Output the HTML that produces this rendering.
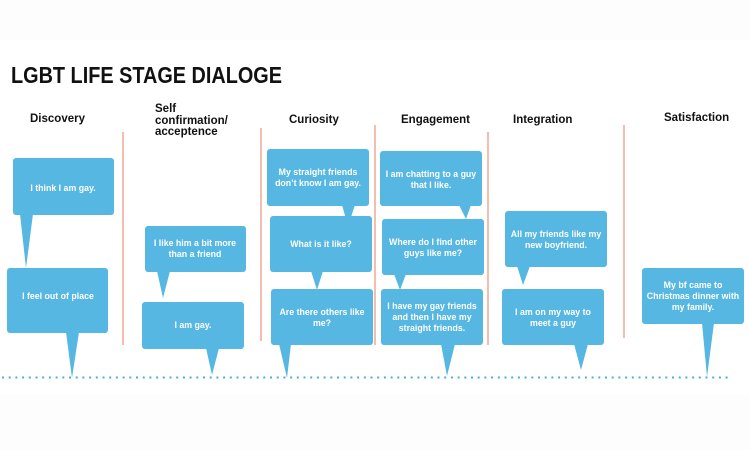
<!DOCTYPE html>
<html><head><meta charset="utf-8"><style>
html,body{margin:0;padding:0;background:#fff;}
svg{display:block}
.h{font-family:"Liberation Sans",sans-serif;font-weight:bold;font-size:11.5px;fill:#111}
.t{font-family:"Liberation Sans",sans-serif;font-weight:bold;font-size:8.8px;fill:#fff;text-anchor:middle}
</style></head><body>
<svg width="750" height="450" viewBox="0 0 750 450" xmlns="http://www.w3.org/2000/svg">
<rect width="750" height="450" fill="#fff"/>
<rect width="750" height="40" fill="#fdfdfd"/>
<rect y="395" width="750" height="55" fill="#fdfdfd"/>
<text x="11" y="83" font-family="Liberation Sans,sans-serif" font-weight="bold" font-size="23" fill="#111" textLength="271" lengthAdjust="spacingAndGlyphs">LGBT LIFE STAGE DIALOGE</text>
<text class="h" x="30" y="122">Discovery</text>
<text class="h" x="155" y="112">Self</text>
<text class="h" x="155" y="124">confirmation/</text>
<text class="h" x="155" y="135">acceptence</text>
<text class="h" x="289" y="123">Curiosity</text>
<text class="h" x="401" y="123">Engagement</text>
<text class="h" x="513" y="123">Integration</text>
<text class="h" x="664" y="121">Satisfaction</text>
<g stroke="#f0a796" stroke-width="1.5">
<line x1="123" y1="132" x2="123" y2="345"/>
<line x1="261" y1="128" x2="261" y2="341"/>
<line x1="375" y1="125" x2="375" y2="345"/>
<line x1="488" y1="132" x2="488" y2="345"/>
<line x1="624" y1="125" x2="624" y2="338"/>
</g>
<g fill="#56b7e2">
<rect x="13" y="158" width="101" height="57" rx="3"/><polygon points="20,214 33,214 26,268"/>
<rect x="7" y="268" width="101" height="65" rx="3"/><polygon points="66,332 79,332 72,378"/>
<rect x="145" y="226" width="101" height="46" rx="3"/><polygon points="157,271 170,271 163,298"/>
<rect x="142" y="302" width="102" height="47" rx="3"/><polygon points="206,348 219,348 212,375"/>
<rect x="267" y="149" width="102" height="57" rx="3"/><polygon points="342,205 355,205 348,226"/>
<rect x="270" y="216" width="102" height="56" rx="3"/><polygon points="311,271 323,271 317,290"/>
<rect x="271" y="289" width="102" height="56" rx="3"/><polygon points="279,344 291,344 287,378"/>
<rect x="380" y="151" width="102" height="55" rx="3"/><polygon points="459,205 471,205 466,219"/>
<rect x="382" y="219" width="102" height="56" rx="3"/><polygon points="394,274 406,274 400,290"/>
<rect x="381" y="289" width="102" height="56" rx="3"/><polygon points="441,344 455,344 447,376"/>
<rect x="505" y="211" width="102" height="56" rx="3"/><polygon points="517,266 530,266 523,285"/>
<rect x="502" y="289" width="102" height="56" rx="3"/><polygon points="574,344 588,344 581,370"/>
<rect x="642" y="268" width="102" height="56" rx="3"/><polygon points="702,323 714,323 707,377"/>
</g>
<g class="t">
<text class="t" x="63" y="191">I think I am gay.</text>
<text class="t" x="58" y="299">I feel out of place</text>
<text class="t" x="195" y="246">I like him a bit more</text>
<text class="t" x="195" y="257">than a friend</text>
<text class="t" x="193" y="328">I am gay.</text>
<text class="t" x="318" y="175">My straight friends</text>
<text class="t" x="318" y="186">don’t know I am gay.</text>
<text class="t" x="321" y="247">What is it like?</text>
<text class="t" x="322" y="315">Are there others like</text>
<text class="t" x="322" y="326">me?</text>
<text class="t" x="431" y="177">I am chatting to a guy</text>
<text class="t" x="431" y="188">that I like.</text>
<text class="t" x="433" y="245">Where do I find other</text>
<text class="t" x="433" y="256">guys like me?</text>
<text class="t" x="432" y="309">I have my gay friends</text>
<text class="t" x="432" y="320">and then I have my</text>
<text class="t" x="432" y="331">straight friends.</text>
<text class="t" x="556" y="237">All my friends like my</text>
<text class="t" x="556" y="248">new boyfriend.</text>
<text class="t" x="553" y="315">I am on my way to</text>
<text class="t" x="553" y="326">meet a guy</text>
<text class="t" x="693" y="288">My bf came to</text>
<text class="t" x="693" y="299">Christmas dinner with</text>
<text class="t" x="693" y="310">my family.</text>
</g>
<line x1="2" y1="377.5" x2="730" y2="377.5" stroke="#4aaedc" stroke-width="2" stroke-dasharray="2 4.7"/>
</svg>
</body></html>
